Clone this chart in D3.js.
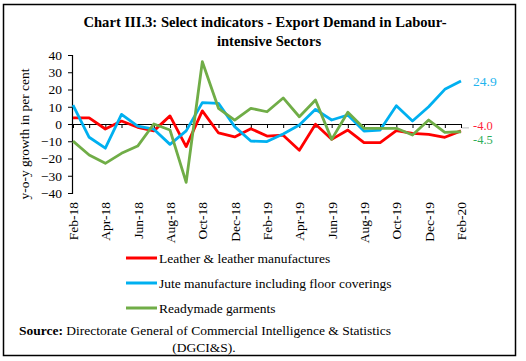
<!DOCTYPE html>
<html>
<head>
<meta charset="utf-8">
<script src="https://cdn.jsdelivr.net/npm/d3@7"></script>
<style>
  body { margin: 0; background: #fff; }
  text { font-family: "Liberation Serif", "Times New Roman", serif; }
</style>
</head>
<body>
<div id="chart"></div>
<script>
const months = ["Feb-18","Mar-18","Apr-18","May-18","Jun-18","Jul-18","Aug-18","Sep-18","Oct-18","Nov-18","Dec-18","Jan-19",
  "Feb-19","Mar-19","Apr-19","May-19","Jun-19","Jul-19","Aug-19","Sep-19","Oct-19","Nov-19","Dec-19","Jan-20","Feb-20"];

const leather = [3.6, 3.6, -2.9, 1.7, -1.9, -4.0, 4.7, -13.1, 7.6, -5.2, -7.5, -2.7, -7.0, -6.5, -15.2, -0.1, -8.9,
  -3.5, -10.8, -10.8, -3.9, -5.4, -6.0, -7.7, -4.0];
const jute = [11.0, -7.7, -14.0, 5.6, -1.2, -3.0, -11.8, -4.0, 12.4, 12.0, -1.5, -9.9, -10.2, -5.8, -0.6, 8.5, 2.3,
  5.2, -4.1, -3.5, 10.6, 1.7, 10.0, 20.1, 24.9];
const garments = [-9.9, -18.0, -22.8, -17.0, -12.8, 0.0, -3.5, -33.8, 36.1, 9.1, 2.3, 9.1, 7.1, 15.1, 4.2, 13.9, -8.9,
  6.8, -2.5, -2.5, -2.5, -6.4, 2.3, -4.8, -4.5];

const seriesNames = ["Leather & leather manufactures", "Jute manufacture including floor coverings", "Readymade garments"];
const seriesColors = ["#ff0000", "#00b0f0", "#70ad47"];
const endLabels = ["-4.0", "24.9", "-4.5"];
const endLabelColors = ["#ff1f3d", "#1fb4ee", "#2fae5a"];
const yTicks = [-40, -30, -20, -10, 0, 10, 20, 30, 40];

const series = [leather, jute, garments];

const W = 526, H = 361;
const svg = d3.select("#chart").append("svg")
  .attr("width", W).attr("height", H);

// outer frame
svg.append("rect")
  .attr("x", 3.5).attr("y", 4.5).attr("width", 512).attr("height", 351)
  .attr("fill", "none").attr("stroke", "#000").attr("stroke-width", 1.5);

// title
svg.append("text").attr("x", 265).attr("y", 27).attr("text-anchor", "middle")
  .style("font-weight", "bold").style("font-size", "14.6px")
  .text("Chart III.3: Select indicators - Export Demand in Labour-");
svg.append("text").attr("x", 269).attr("y", 46).attr("text-anchor", "middle")
  .style("font-weight", "bold").style("font-size", "14.6px")
  .text("intensive Sectors");

const x = d3.scalePoint().domain(months).range([73, 461]);
const y = d3.scaleLinear().domain([-40, 40]).range([193, 55]);

// y axis
const yAxis = svg.append("g")
  .attr("transform", "translate(72,0)")
  .call(d3.axisLeft(y).tickValues(yTicks).tickSize(4).tickPadding(6).tickFormat(d3.format("d")));
yAxis.select(".domain").attr("stroke", "#000").attr("stroke-width", 1.2);
yAxis.selectAll("text").style("font-size", "13.5px").attr("fill", "#000")
  .style("font-family", "'Liberation Serif', serif");

// x axis on the zero line
const xAxis = svg.append("g")
  .attr("transform", `translate(0,${y(0)})`)
  .call(d3.axisBottom(x).tickSize(4).tickSizeOuter(0).tickFormat(""));
xAxis.select(".domain").attr("stroke", "#000").attr("stroke-width", 1.2);

// x labels at the bottom, rotated
svg.append("g").selectAll("text")
  .data(months.filter((m, i) => i % 2 === 0))
  .join("text")
  .attr("transform", d => `translate(${x(d) + 5},202) rotate(-90)`)
  .attr("text-anchor", "end")
  .style("font-size", "13.5px")
  .text(d => d);

// y label
svg.append("text")
  .attr("transform", "translate(29,134) rotate(-90)")
  .attr("text-anchor", "middle")
  .style("font-size", "13.5px")
  .text("y-o-y growth in per cent");

// lines
const line = d3.line().x((d, i) => x(months[i])).y(d => y(d));
series.forEach((s, k) => {
  svg.append("path").datum(s)
    .attr("d", line)
    .attr("fill", "none")
    .attr("stroke", seriesColors[k])
    .attr("stroke-width", 2.8)
    .attr("stroke-linejoin", "round");
});

// end labels
const last = months[months.length - 1];
const labelDy = [-1, 5, 12];
svg.append("line")
  .attr("x1", x(last) + 1).attr("x2", x(last) + 8)
  .attr("y1", y(leather[leather.length - 1]) - 3).attr("y2", y(leather[leather.length - 1]) - 3)
  .attr("stroke", "#bbb").attr("stroke-width", 1);
series.forEach((s, k) => {
  svg.append("text")
    .attr("x", x(last) + 12)
    .attr("y", y(s[s.length - 1]) + labelDy[k])
    .attr("fill", endLabelColors[k])
    .style("font-size", k === 1 ? "13.5px" : "12.5px")
    .text(endLabels[k]);
});

// legend
const legend = svg.append("g");
seriesNames.forEach((name, k) => {
  const ly = 258 + k * 25;
  legend.append("line")
    .attr("x1", 126).attr("x2", 157).attr("y1", ly).attr("y2", ly)
    .attr("stroke", seriesColors[k]).attr("stroke-width", 3);
  legend.append("text")
    .attr("x", 159).attr("y", ly + 5)
    .style("font-size", "13.5px")
    .text(name);
});

// source
const src = svg.append("text").attr("x", 205).attr("y", 335).attr("text-anchor", "middle")
  .style("font-size", "13.5px");
src.append("tspan").style("font-weight", "bold").text("Source:");
src.append("tspan").text(" Directorate General of Commercial Intelligence & Statistics");
svg.append("text").attr("x", 204).attr("y", 352).attr("text-anchor", "middle")
  .style("font-size", "13.5px")
  .text("(DGCI&S).");
</script>
</body>
</html>
